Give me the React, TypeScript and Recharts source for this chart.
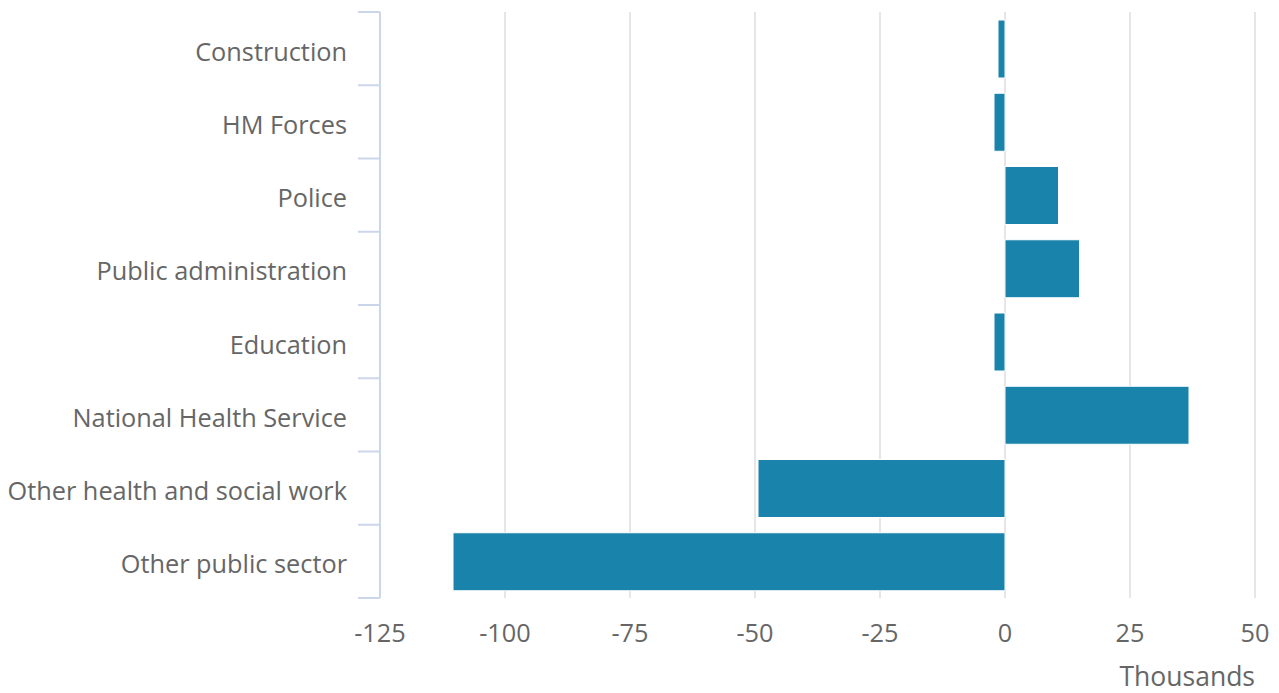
import { BarChart, Bar, XAxis, YAxis, CartesianGrid, Label } from "recharts";

const categories = [
  "Construction",
  "HM Forces",
  "Police",
  "Public administration",
  "Education",
  "National Health Service",
  "Other health and social work",
  "Other public sector",
];
const changes = [-1.4, -2.2, 10.7, 14.9, -2.2, 36.8, -49.4, -110.4];
const xTicks = [-125, -100, -75, -50, -25, 0, 25, 50];

const data = categories.map((name, i) => ({ name, value: changes[i] }));

const W = 1279;
const H = 693;
const TOP = 12;
const PLOT_H = 586;
const AXIS_X = 380;
const BAND_HALF = PLOT_H / categories.length / 2;
const FONT = "'Open Sans', sans-serif";

function CategoryTick({ y, payload, index }: any) {
  const last = index === categories.length - 1;
  return (
    <g>
      <line x1={358} x2={AXIS_X} y1={y - BAND_HALF} y2={y - BAND_HALF} stroke="#ccd6eb" strokeWidth={2} />
      {last && <line x1={358} x2={AXIS_X} y1={y + BAND_HALF} y2={y + BAND_HALF} stroke="#ccd6eb" strokeWidth={2} />}
      <text x={347} y={y} dy={12} textAnchor="end" fontSize={25.3} fill="#666666" fontFamily={FONT}>
        {payload.value}
      </text>
    </g>
  );
}

export default function App() {
  return (
    <div style={{ position: "absolute", left: 0, top: 0, width: W, height: H, background: "#fff", fontFamily: FONT }}>
      <BarChart width={W} height={H} data={data} layout="vertical" margin={{ top: TOP, right: 24, bottom: 0, left: 0 }} barSize={58}>
        <CartesianGrid horizontal={false} stroke="#e6e6e6" strokeWidth={2} />
        <XAxis
          type="number"
          domain={[-125, 50]}
          ticks={xTicks}
          axisLine={false}
          tickLine={false}
          tickSize={6}
          tickMargin={20}
          height={95}
          tick={{ fontSize: 25.3, fill: "#666666", fontFamily: FONT }}
        >
          <Label
            content={({ viewBox }: any) => (
              <text x={viewBox.x + viewBox.width} y={viewBox.y + 88} textAnchor="end" fontSize={26.5} fill="#666666" fontFamily={FONT}>
                Thousands
              </text>
            )}
          />
        </XAxis>
        <YAxis
          type="category"
          dataKey="name"
          width={AXIS_X}
          axisLine={{ stroke: "#ccd6eb", strokeWidth: 2 }}
          tickLine={false}
          tick={<CategoryTick />}
          interval={0}
        />
        <Bar dataKey="value" fill="#1a83ab" stroke="#ffffff" strokeWidth={1} isAnimationActive={false} />
      </BarChart>
    </div>
  );
}
